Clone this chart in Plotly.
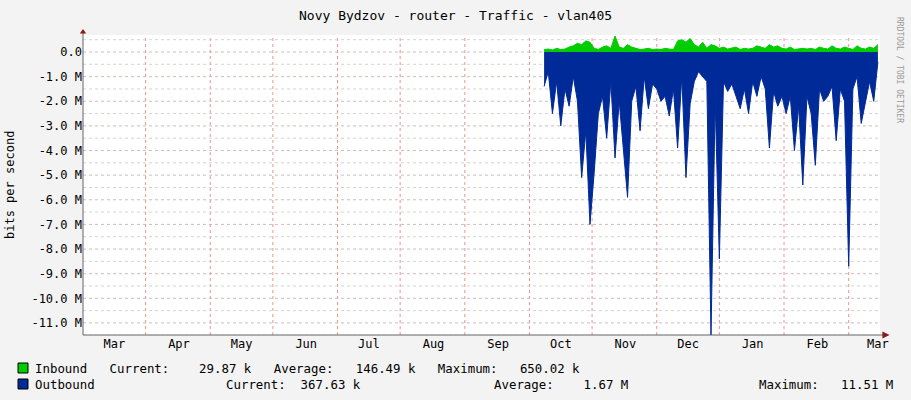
import plotly.graph_objects as go
import pandas as pd

start_date = "2023-09-23"
step_days = 2
outbound_m = [-1.4,-0.8,-2.5,-1.2,-3.0,-1.5,-2.2,-1.0,-2.0,-5.1,-3.2,-7.0,-4.9,-2.5,-1.8,-3.5,-1.2,-4.3,-2.0,-3.8,
              -5.9,-2.0,-1.4,-3.2,-1.0,-2.3,-1.3,-1.5,-2.0,-1.8,-2.6,-1.5,-3.9,-1.0,-5.1,-2.1,-1.2,-0.8,-1.0,-1.2,
              -11.5,-2.0,-8.4,-1.2,-1.6,-1.3,-1.8,-2.3,-1.5,-2.5,-1.2,-1.8,-1.0,-1.5,-3.9,-1.6,-2.2,-1.8,-2.5,-1.8,
              -4.0,-2.2,-5.4,-1.8,-2.5,-4.6,-1.5,-2.0,-1.8,-1.4,-3.6,-1.5,-2.0,-8.7,-1.5,-1.0,-2.9,-2.0,-1.2,-2.0,-0.4]
inbound_m = [0.10,0.12,0.08,0.15,0.10,0.12,0.20,0.25,0.35,0.30,0.45,0.40,0.15,0.10,0.20,0.25,0.15,0.65,0.20,0.15,
             0.30,0.20,0.15,0.10,0.12,0.15,0.10,0.12,0.10,0.15,0.12,0.10,0.45,0.50,0.40,0.55,0.30,0.20,0.40,0.15,
             0.30,0.25,0.15,0.20,0.12,0.15,0.20,0.10,0.15,0.12,0.15,0.25,0.20,0.15,0.30,0.20,0.25,0.15,0.12,0.20,
             0.10,0.12,0.15,0.12,0.15,0.10,0.20,0.15,0.12,0.25,0.15,0.12,0.20,0.15,0.10,0.25,0.15,0.12,0.20,0.15,0.30]
dates = pd.date_range(start_date, periods=len(outbound_m), freq=f"{step_days}D")
month_ticks = pd.date_range("2023-03-01", "2024-03-01", freq="MS")
month_labels = [d.strftime("%b") for d in month_ticks]
grid_days = pd.date_range("2023-03-01", "2024-02-01", freq="MS") + pd.Timedelta(days=15)
y_ticks = [0, -1, -2, -3, -4, -5, -6, -7, -8, -9, -10, -11]
y_labels = ["0.0"] + [f"{v:.1f} M" for v in y_ticks[1:]]

mono = "DejaVu Sans Mono"
fig = go.Figure()
fig.add_trace(go.Scatter(x=dates, y=[v*1e6 for v in outbound_m], mode="lines", line=dict(color="#002A97", width=1),
                         fill="tozeroy", fillcolor="#002A97"))
fig.add_trace(go.Scatter(x=dates, y=[v*1e6 for v in inbound_m], mode="lines", line=dict(color="#00CC00", width=1),
                         fill="tozeroy", fillcolor="#00CC00"))

shapes = []
for g in grid_days:
    shapes.append(dict(type="line", xref="x", yref="paper", x0=g, x1=g, y0=0, y1=1,
                       line=dict(color="rgba(230,120,120,0.8)", width=1, dash="dot"), layer="below"))
for k in range(-23, 2):
    shapes.append(dict(type="line", xref="paper", yref="y", x0=0, x1=1, y0=k*0.5e6, y1=k*0.5e6,
                       line=dict(color="rgba(200,170,170,0.8)" if k % 2 == 0 else "rgba(200,200,200,0.8)", width=1, dash="dot"), layer="below"))
shapes.append(dict(type="line", xref="paper", yref="paper", x0=0, x1=1.005, y0=0, y1=0, line=dict(color="#666", width=1)))
shapes.append(dict(type="line", xref="paper", yref="paper", x0=0, x1=0, y0=0, y1=1.01, line=dict(color="#666", width=1)))
shapes.append(dict(type="path", xref="paper", yref="paper", path="M 1.003 -0.012 L 1.012 0 L 1.003 0.012 Z", fillcolor="#8B1A1A", line=dict(width=0)))
shapes.append(dict(type="path", xref="paper", yref="paper", path="M -0.004 1.005 L 0 1.02 L 0.004 1.005 Z", fillcolor="#8B1A1A", line=dict(width=0)))

ann = []
def txt(x, y, s, size=12, color="#000", anchor="left", angle=0):
    ann.append(dict(x=x, y=y, xref="paper", yref="paper", text=s, showarrow=False, xanchor=anchor, yanchor="middle",
                    font=dict(family=mono, size=size, color=color), textangle=angle))
W, H = 911, 400
def px(x): return (x - 83) / (880 - 83)
def py(y): return (335 - y) / (335 - 35)
txt(px(455), py(15), "Novy Bydzov - router - Traffic - vlan405", 13, anchor="center")
txt(px(10), py(185), "bits per second", 12, anchor="center", angle=-90)
txt(px(900), py(70), "RRDTOOL / TOBI OETIKER", 8, color="#999", anchor="center", angle=90)
txt(px(33), py(368), "Inbound   Current:    29.87 k   Average:   146.49 k   Maximum:   650.02 k", 12.4)
txt(px(33), py(384), "Outbound", 12.4)
txt(px(363), py(384), "Current:  367.63 k", 12.4, anchor="right")
txt(px(630), py(384), "Average:    1.67 M", 12.4, anchor="right")
txt(px(895), py(384), "Maximum:   11.51 M", 12.4, anchor="right")
for yy, c in [(368, "#00CC00"), (384, "#002A97")]:
    shapes.append(dict(type="rect", xref="paper", yref="paper", x0=px(18), x1=px(28), y0=py(yy+5), y1=py(yy-5),
                       fillcolor=c, line=dict(color="#000", width=1)))

fig.update_layout(
    width=W, height=H, margin=dict(l=83, r=31, t=35, b=65),
    paper_bgcolor="#F3F3F3", plot_bgcolor="#FFFFFF", showlegend=False,
    shapes=shapes, annotations=ann,
    font=dict(family=mono, size=12, color="#000"),
    xaxis=dict(range=["2023-02-14", "2024-03-02"], tickvals=month_ticks, ticktext=month_labels, showgrid=False,
               zeroline=False, ticks="", tickfont=dict(family=mono, size=12)),
    yaxis=dict(range=[-11.49e6, 0.69e6], tickvals=[v*1e6 for v in y_ticks], ticktext=y_labels, showgrid=False,
               zeroline=False, ticks="", tickfont=dict(family=mono, size=12)),
)
fig.write_html("out.html", config={"displayModeBar": False}, post_script="document.body.style.margin='0';")
